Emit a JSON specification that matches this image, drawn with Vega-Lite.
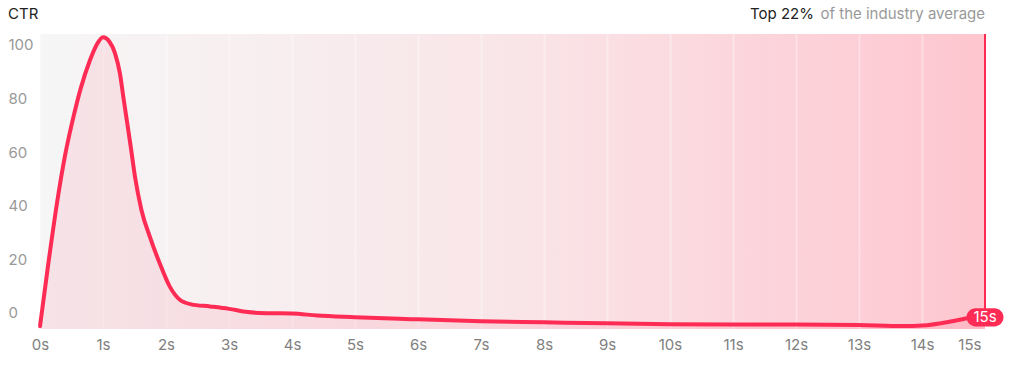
{
  "$schema": "https://vega.github.io/schema/vega-lite/v6.json",
  "width": 945,
  "height": 295,
  "autosize": "none",
  "padding": {"left": 40, "top": 34, "right": 36, "bottom": 44},
  "config": {
    "font": "Inter",
    "view": {
      "stroke": null,
      "fill": {
        "gradient": "linear",
        "x1": 0, "x2": 1, "y1": 0, "y2": 0,
        "stops": [
          {"offset": 0, "color": "#f6f6f6"},
          {"offset": 0.5, "color": "#f9e5e8"},
          {"offset": 1, "color": "#fec6cf"}
        ]
      }
    }
  },
  "data": {
    "values": [
      {"t": 0, "ctr": -5},
      {"t": 0.13, "ctr": 18},
      {"t": 0.27, "ctr": 41},
      {"t": 0.4, "ctr": 59},
      {"t": 0.53, "ctr": 73},
      {"t": 0.65, "ctr": 84},
      {"t": 0.79, "ctr": 94},
      {"t": 0.9, "ctr": 100},
      {"t": 1.0, "ctr": 102.8},
      {"t": 1.1, "ctr": 101.2},
      {"t": 1.19, "ctr": 96.9},
      {"t": 1.27, "ctr": 89.1},
      {"t": 1.32, "ctr": 81.0},
      {"t": 1.38, "ctr": 71.5},
      {"t": 1.44, "ctr": 62.0},
      {"t": 1.51, "ctr": 50.5},
      {"t": 1.61, "ctr": 38.4},
      {"t": 1.75, "ctr": 28.0},
      {"t": 1.9, "ctr": 18.5},
      {"t": 2.06, "ctr": 9.8},
      {"t": 2.22, "ctr": 4.9},
      {"t": 2.4, "ctr": 3.2},
      {"t": 2.7, "ctr": 2.4},
      {"t": 3.0, "ctr": 1.5},
      {"t": 3.3, "ctr": 0.3},
      {"t": 3.6, "ctr": -0.1},
      {"t": 4.0, "ctr": -0.2},
      {"t": 4.4, "ctr": -1.0},
      {"t": 5.0, "ctr": -1.6},
      {"t": 5.7, "ctr": -2.2},
      {"t": 6.0, "ctr": -2.4},
      {"t": 7.0, "ctr": -3.1},
      {"t": 8.0, "ctr": -3.5},
      {"t": 9.0, "ctr": -3.9},
      {"t": 10.0, "ctr": -4.2},
      {"t": 11.0, "ctr": -4.3},
      {"t": 12.0, "ctr": -4.3},
      {"t": 13.0, "ctr": -4.5},
      {"t": 13.7, "ctr": -4.9},
      {"t": 14.0, "ctr": -4.7},
      {"t": 14.5, "ctr": -3.0},
      {"t": 14.8, "ctr": -1.6},
      {"t": 15.0, "ctr": -0.9}
    ]
  },
  "layer": [
    {
      "mark": {"type": "area", "interpolate": "monotone", "color": "#fe2c55", "opacity": 0.09},
      "encoding": {
        "x": {
          "field": "t",
          "type": "quantitative",
          "scale": {"domain": [0, 15], "nice": false, "zero": false},
          "axis": {
            "title": null,
            "values": [0,1,2,3,4,5,6,7,8,9,10,11,12,13,14,15],
            "labelExpr": "datum.value + 's'",
            "domain": false,
            "ticks": false,
            "grid": true,
            "gridColor": "#ffffff",
            "gridOpacity": 0.35,
            "gridWidth": 2,
            "labelColor": "#808080",
            "labelFontSize": 15,
            "labelPadding": 8,
            "labelFlush": false,
            "labelAlign": {"condition": {"test": "datum.value == 15", "value": "right"}, "value": "center"},
            "labelOffset": {"condition": {"test": "datum.value == 15", "value": -4}, "value": 0}
          }
        },
        "y": {
          "field": "ctr",
          "type": "quantitative",
          "scale": {"domain": [-6, 104], "nice": false, "zero": false},
          "axis": {
            "title": null,
            "values": [0, 20, 40, 60, 80, 100],
            "domain": false,
            "ticks": false,
            "grid": false,
            "labelAlign": "left",
            "labelPadding": 32,
            "labelColor": "#999999",
            "labelFontSize": 15
          }
        },
        "y2": {"datum": -6}
      }
    },
    {
      "mark": {"type": "line", "interpolate": "monotone", "color": "#fe2c55", "strokeWidth": 4, "strokeCap": "round"},
      "encoding": {
        "x": {"field": "t", "type": "quantitative"},
        "y": {"field": "ctr", "type": "quantitative"}
      }
    },
    {
      "transform": [{"filter": "datum.t == 15"}],
      "mark": {"type": "rule", "color": "#fe2c55", "strokeWidth": 2},
      "encoding": {
        "x": {"field": "t", "type": "quantitative"},
        "y": {"field": "ctr", "type": "quantitative"},
        "y2": {"datum": 104}
      }
    },
    {
      "transform": [{"filter": "datum.t == 15"}],
      "mark": {
        "type": "point",
        "filled": true,
        "opacity": 1,
        "color": "#fe2c55",
        "size": 1369,
        "yOffset": 2,
        "shape": "M -0.51 -0.49 L 0.51 -0.49 A 0.49 0.49 0 0 1 0.51 0.49 L -0.51 0.49 A 0.49 0.49 0 0 1 -0.51 -0.49 Z"
      },
      "encoding": {
        "x": {"field": "t", "type": "quantitative"},
        "y": {"field": "ctr", "type": "quantitative"}
      }
    },
    {
      "transform": [{"filter": "datum.t == 15"}],
      "mark": {"type": "text", "color": "#ffffff", "fontSize": 15, "align": "center", "baseline": "middle", "yOffset": 2, "text": "15s"},
      "encoding": {
        "x": {"field": "t", "type": "quantitative"},
        "y": {"field": "ctr", "type": "quantitative"}
      }
    },
    {
      "transform": [{"filter": "datum.t == 15"}],
      "mark": {"type": "text", "color": "#999999", "fontSize": 15, "align": "right", "baseline": "middle", "text": "of the industry average"},
      "encoding": {
        "x": {"field": "t", "type": "quantitative"},
        "y": {"value": -20}
      }
    },
    {
      "transform": [{"filter": "datum.t == 15"}],
      "mark": {"type": "text", "color": "#222222", "fontSize": 15, "align": "left", "baseline": "middle", "text": "Top 22%"},
      "encoding": {
        "x": {"value": 710},
        "y": {"value": -20}
      }
    },
    {
      "transform": [{"filter": "datum.t == 15"}],
      "mark": {"type": "text", "color": "#222222", "fontSize": 15, "align": "left", "baseline": "middle", "text": "CTR"},
      "encoding": {"x": {"value": -32}, "y": {"value": -20}}
    }
  ]
}
